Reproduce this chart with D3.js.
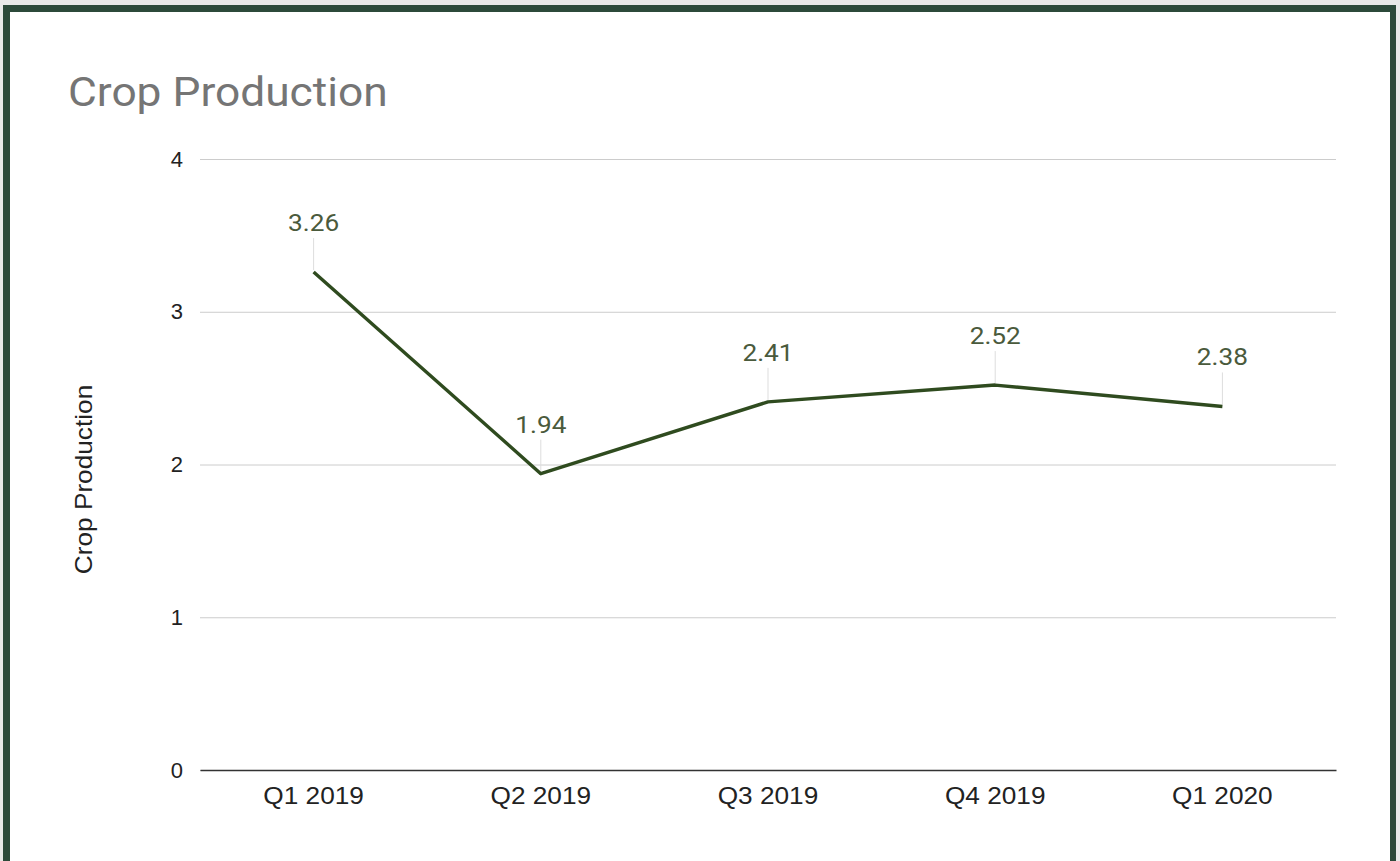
<!DOCTYPE html>
<html>
<head>
<meta charset="utf-8">
<script src="https://cdn.jsdelivr.net/npm/d3@7"></script>
<style>
  html, body { margin: 0; padding: 0; background: #e8e9e8; }
  svg { display: block; }
</style>
</head>
<body>
<svg id="chart" width="1400" height="861"></svg>
<script>
// Quarterly crop production
const quarters = ["Q1 2019", "Q2 2019", "Q3 2019", "Q4 2019", "Q1 2020"];
const production = [3.26, 1.94, 2.41, 2.52, 2.38];
const yTicks = [0, 1, 2, 3, 4];

const svg = d3.select("#chart");
const W = 1400, H = 861;
const stretch = 1.14; // text is drawn slightly wide

// Framed card
svg.append("rect")
  .attr("x", 3).attr("y", 5)
  .attr("width", 1393).attr("height", H + 20)
  .attr("fill", "#2c4a3a");
svg.append("rect")
  .attr("x", 10).attr("y", 12)
  .attr("width", 1380).attr("height", H + 20)
  .attr("fill", "#ffffff");

const plot = { left: 200, right: 1336, top: 159, bottom: 770 };

const x = d3.scaleBand().domain(quarters).range([plot.left, plot.right]);
const y = d3.scaleLinear().domain([0, 4]).range([plot.bottom, plot.top]);

// Title
svg.append("text")
  .attr("transform", `translate(68,106) scale(1.08,1)`)
  .attr("font-family", "Roboto, 'Liberation Sans', Arial, sans-serif")
  .attr("font-size", 41)
  .attr("fill", "#757575")
  .text("Crop Production");

// Horizontal gridlines with value ticks
const yAxis = d3.axisLeft(y).tickValues(yTicks).tickFormat(d3.format("d"))
  .tickSize(-(plot.right - plot.left)).tickPadding(17);
const gy = svg.append("g").attr("transform", `translate(${plot.left},0)`).call(yAxis);
gy.select(".domain").remove();
gy.selectAll(".tick line").attr("stroke", "#cccccc").attr("stroke-width", 1);
gy.selectAll(".tick text")
  .attr("font-family", "'Liberation Sans', Arial, sans-serif")
  .attr("font-size", 22)
  .attr("fill", "#222222");

// Baseline and category labels
const gx = svg.append("g").attr("transform", `translate(0,${plot.bottom})`)
  .call(d3.axisBottom(x).tickSize(0).tickPadding(18));
gx.select(".domain").attr("stroke", "#333333").attr("stroke-width", 1.6);
gx.selectAll(".tick text")
  .attr("transform", `scale(${stretch},1)`)
  .attr("font-family", "'Liberation Sans', Arial, sans-serif")
  .attr("font-size", 23)
  .attr("fill", "#222222");

// Y axis title
svg.append("text")
  .attr("transform", `translate(92,${(plot.top + plot.bottom) / 2 + 15}) rotate(-90) scale(${stretch},1)`)
  .attr("text-anchor", "middle")
  .attr("font-family", "'Liberation Sans', Arial, sans-serif")
  .attr("font-size", 23)
  .attr("fill", "#222222")
  .text("Crop Production");

const cx = q => x(q) + x.bandwidth() / 2;
const series = quarters.map((q, i) => ({ q, v: production[i] }));

// Leader lines from points to value labels
svg.append("g").selectAll("line").data(series).join("line")
  .attr("x1", d => cx(d.q)).attr("x2", d => cx(d.q))
  .attr("y1", d => y(d.v) - 2).attr("y2", d => y(d.v) - 34)
  .attr("stroke", "#dddddd").attr("stroke-width", 1);

// Series line
svg.append("path")
  .datum(series)
  .attr("fill", "none")
  .attr("stroke", "#2f4b1f")
  .attr("stroke-width", 3.4)
  .attr("stroke-linejoin", "round")
  .attr("d", d3.line().x(d => cx(d.q)).y(d => y(d.v)));

// Value labels
svg.append("g").selectAll("text").data(series).join("text")
  .attr("transform", d => `translate(${cx(d.q)},${y(d.v) - 41}) scale(${stretch},1)`)
  .attr("text-anchor", "middle")
  .attr("font-family", "Roboto, 'Liberation Sans', Arial, sans-serif")
  .attr("font-size", 23)
  .attr("fill", "#4a5a3c")
  .text(d => d.v.toFixed(2));
</script>
</body>
</html>
